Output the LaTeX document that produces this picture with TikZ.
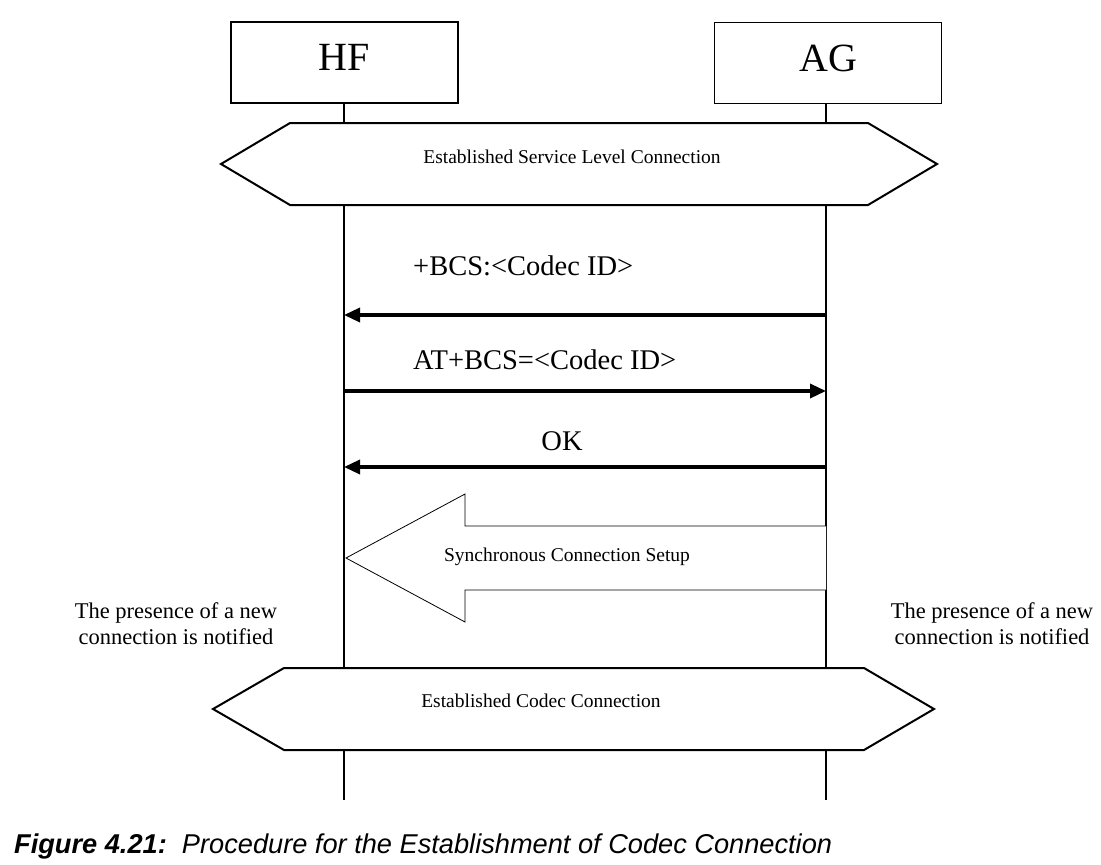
\documentclass[tikz,border=0pt]{standalone}
\usepackage{fontspec}
\setmainfont{Liberation Serif}
\newfontfamily\capfont{Liberation Sans}
\usetikzlibrary{arrows.meta,positioning}
\tikzset{
  entity/.style={draw, line width=1.2pt, minimum width=227pt, minimum height=81pt,
                 inner sep=0pt, text depth=10pt, font=\fontsize{40}{44}\selectfont},
  lifeline/.style={line width=2.6pt},
  msg/.style={line width=3.4pt, -{Triangle[length=16pt,width=14pt]}},
  msglabel/.style={inner sep=0pt, font=\fontsize{28.5}{32}\selectfont},
  hexa/.style={draw, line width=2pt, fill=white, line join=miter},
  hexlabel/.style={inner sep=0pt, font=\fontsize{19.5}{22}\selectfont},
  note/.style={inner sep=0pt, align=center, font=\fontsize{22.5}{26}\selectfont}
}
\begin{document}
\begin{tikzpicture}[x=1pt, y=-1pt]
  \useasboundingbox (0,0) rectangle (1101,865);
  % entities
  \node[entity] (hf) at (344.5,62.5) {HF};
  \node[entity] (ag) at (828,63) {AG};
  \coordinate (hfend) at (344,800);
  \coordinate (agend) at (826,800);
  \draw[lifeline] (hf.south -| hfend) -- (hfend);
  \draw[lifeline] (ag.south -| agend) -- (agend);
  % established service level connection
  \draw[hexa] (221,164) -- (290,123) -- (868,123) -- (937,164) -- (868,205) -- (290,205) -- cycle;
  \node[hexlabel] (slc) at (572,157) {Established Service Level Connection};
  % messages
  \coordinate (hf1) at (344,315); \coordinate (ag1) at (826,315);
  \coordinate (hf2) at (344,391); \coordinate (ag2) at (826,391);
  \coordinate (hf3) at (344,467); \coordinate (ag3) at (826,467);
  \draw[msg] (ag1) -- (hf1);
  \draw[msg] (hf2) -- (ag2);
  \draw[msg] (ag3) -- (hf3);
  \node[msglabel, anchor=west] (bcs) at (413,266) {+BCS:<Codec ID>};
  \node[msglabel, anchor=west] (atbcs) at (413,360) {AT+BCS=<Codec ID>};
  \node[msglabel] (ok) at (562,441) {OK};
  % synchronous connection setup
  \draw[line width=0.8pt, fill=white] (826,526) -- (465,526) -- (465,494) -- (346,558)
      -- (465,622) -- (465,590) -- (826,590);
  \node[hexlabel] (scs) at (567,557) {Synchronous Connection Setup};
  % notifications
  \foreach \x/\n in {176/nl, 992/nr}
    \node[note] (\n) at (\x,624) {The presence of a new\\connection is notified};
  % established codec connection
  \draw[hexa] (213,709) -- (284,668) -- (864,668) -- (934,709) -- (864,750) -- (284,750) -- cycle;
  \node[hexlabel] (cc) at (541,701) {Established Codec Connection};
  % caption
  \node[anchor=west, inner sep=0pt, font=\capfont\fontsize{27.2}{30}\selectfont] (cap) at (14,846)
    {\bfseries\itshape Figure 4.21:\mdseries\ \ Procedure for the Establishment of Codec Connection};
\end{tikzpicture}
\end{document}
